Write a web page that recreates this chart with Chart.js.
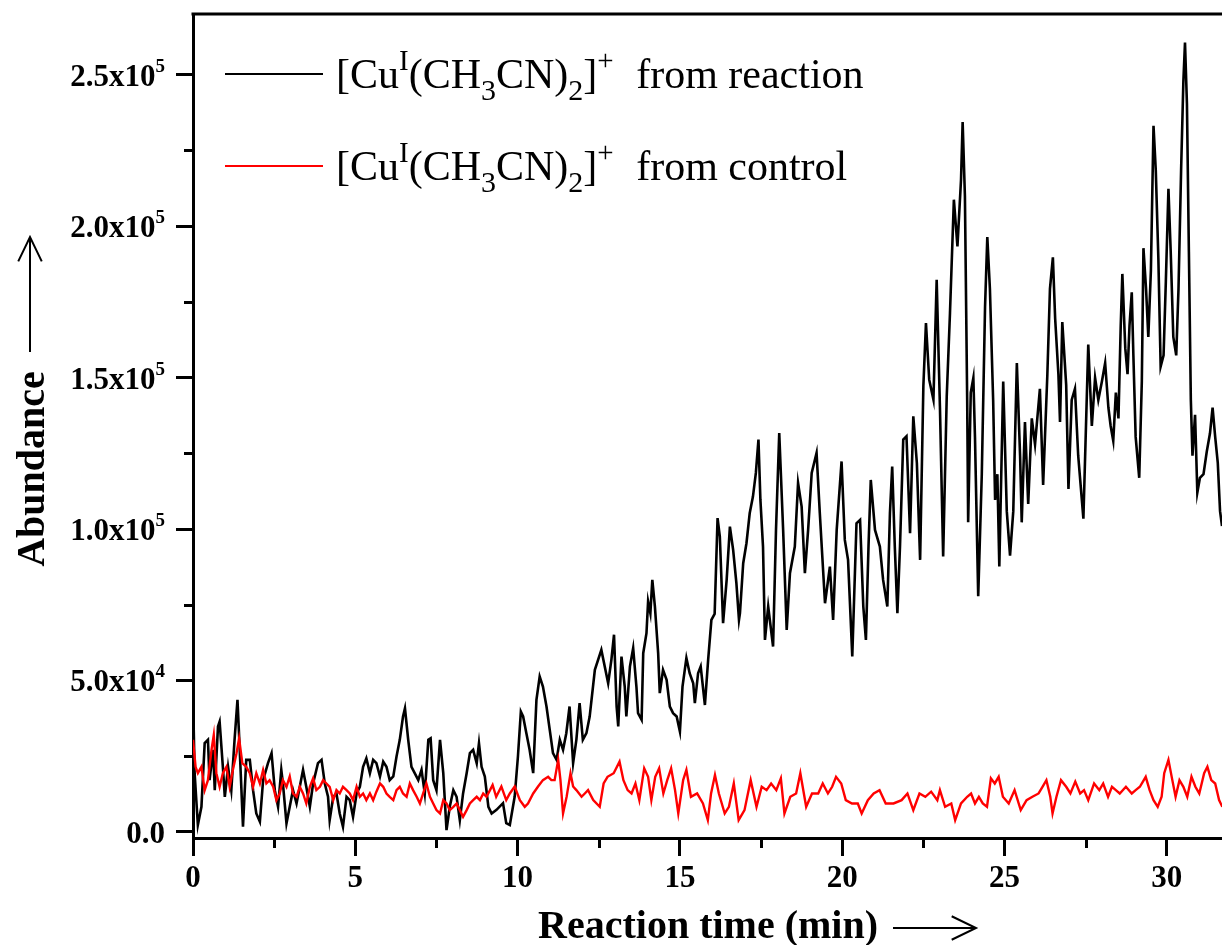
<!DOCTYPE html>
<html><head><meta charset="utf-8">
<script src="https://cdn.jsdelivr.net/npm/chart.js@4/dist/chart.umd.min.js"></script>
<style>html,body{margin:0;padding:0;background:#fff;}#wrap{width:1222px;height:945px;}</style>
</head><body><div id="wrap"><canvas id="c" width="1222" height="945"></canvas></div>
<script>
// ---- data ----
const seriesNames = ['[Cu^{I}(CH_{3}CN)_{2}]^{+} from reaction', '[Cu^{I}(CH_{3}CN)_{2}]^{+} from control'];
const seriesColors = ['#000000', '#ff0000'];
const xTitle = 'Reaction time (min)';
const yTitle = 'Abundance';
const xTickValues = [0, 5, 10, 15, 20, 25, 30];
const xTickLabels = ['0', '5', '10', '15', '20', '25', '30'];
const yTickValues = [0, 50000, 100000, 150000, 200000, 250000];
const yTickLabels = ['0.0', '5.0x10^{4}', '1.0x10^{5}', '1.5x10^{5}', '2.0x10^{5}', '2.5x10^{5}'];

const reactionTime = [
0,0.05,0.15,0.26,0.36,0.46,0.51,0.62,0.67,0.77,
0.82,0.92,0.98,1.08,1.18,1.28,1.37,1.44,1.54,1.64,
1.75,1.85,1.95,2.06,2.16,2.31,2.42,2.52,2.62,2.72,
2.77,2.88,2.98,3.08,3.19,3.29,3.39,3.49,3.6,3.7,
3.85,3.96,4.06,4.16,4.21,4.32,4.42,4.52,4.62,4.73,
4.83,4.93,5.04,5.14,5.24,5.34,5.45,5.55,5.65,5.76,
5.86,5.96,6.06,6.17,6.27,6.37,6.47,6.53,6.63,6.73,
6.83,6.94,7.04,7.14,7.25,7.32,7.4,7.5,7.61,7.71,
7.81,7.91,8.02,8.12,8.22,8.32,8.43,8.53,8.63,8.74,
8.81,8.89,8.99,9.1,9.2,9.35,9.55,9.65,9.76,9.91,
10.01,10.1,10.17,10.27,10.37,10.48,10.58,10.68,10.78,10.89,
10.99,11.09,11.2,11.3,11.4,11.5,11.6,11.71,11.81,11.91,
12.01,12.12,12.22,12.38,12.58,12.79,12.89,12.97,13.05,13.1,
13.2,13.3,13.35,13.46,13.56,13.66,13.71,13.82,13.87,13.97,
14.02,14.09,14.15,14.23,14.33,14.38,14.48,14.59,14.69,14.79,
14.9,15,15.08,15.2,15.3,15.41,15.46,15.56,15.64,15.77,
15.87,15.97,16.07,16.16,16.23,16.33,16.44,16.54,16.64,16.74,
16.82,16.85,16.95,17.05,17.15,17.25,17.34,17.42,17.48,17.56,
17.62,17.72,17.87,17.96,18.06,18.18,18.29,18.39,18.54,18.64,
18.75,18.85,18.95,19.06,19.21,19.31,19.47,19.62,19.72,19.83,
19.98,20.08,20.18,20.31,20.44,20.55,20.65,20.73,20.81,20.88,
21.01,21.16,21.26,21.39,21.47,21.54,21.62,21.7,21.78,21.88,
21.98,22.09,22.19,22.3,22.4,22.5,22.58,22.68,22.81,22.91,
23.01,23.11,23.22,23.32,23.44,23.55,23.66,23.71,23.78,23.85,
23.88,23.96,24.04,24.09,24.19,24.3,24.4,24.47,24.55,24.65,
24.71,24.78,24.84,24.96,25.07,25.17,25.27,25.38,25.48,25.53,
25.63,25.73,25.84,25.94,26.09,26.19,26.32,26.4,26.49,26.56,
26.66,26.71,26.78,26.9,26.97,27.07,27.17,27.27,27.43,27.58,
27.69,27.79,27.89,28,28.1,28.2,28.27,28.35,28.43,28.51,
28.58,28.63,28.72,28.79,28.85,28.92,28.97,29.04,29.15,29.23,
29.28,29.36,29.43,29.51,29.59,29.66,29.74,29.81,29.9,29.97,
30.05,30.12,30.2,30.29,30.36,30.44,30.51,30.56,30.62,30.68,
30.74,30.79,30.87,30.94,31.02,31.13,31.23,31.33,31.41,31.49,
31.57,31.64,31.7];
const reactionAbundance = [
45800,19400,2300,8300,29300,30400,17100,27100,13800,34800,
36400,21500,11600,21500,13800,30400,43600,27100,1700,23800,
23800,13800,6100,3400,17100,22700,26000,13800,8300,20500,
16000,2800,8300,13800,9400,14900,20500,14900,8300,16000,
22700,23800,16000,11600,3900,11600,12700,6100,1700,11600,
10500,5000,12700,14900,21500,24300,19400,23800,22700,18300,
23200,21500,17100,18300,24900,30400,38100,40800,30400,21500,
19400,17100,20500,12700,30400,30900,17100,13800,30400,19400,
600,8300,13800,11600,3900,12700,19400,26000,27100,22700,
29300,21500,18300,8300,6100,7300,9500,2900,2300,11700,
24900,39700,38100,32600,27100,19400,43600,51300,48000,41400,
33700,26000,23800,30400,27100,32600,41400,22700,30400,42500,
30400,32600,38100,53500,60100,49100,56900,65100,41400,34800,
57900,48000,38100,54600,60700,48000,39200,37000,59000,65600,
76100,72200,83200,74400,59000,45800,53500,50200,41400,39200,
38100,33100,48000,57400,52400,49100,42500,52400,54600,41900,
56800,70000,72000,103600,97500,68900,83200,100800,93100,82100,
70000,72200,88700,95300,105200,110700,118500,129500,109600,94200,
63400,74400,61200,99700,131700,99700,66700,85400,94200,115200,
107400,85400,99700,118500,125100,105200,75500,87600,70000,99700,
122300,96400,89800,57900,101900,103000,74400,63400,94200,116200,
99700,94200,83200,74400,105200,120600,94200,72200,94200,129500,
130600,98600,137200,121800,89800,147100,168000,149300,142700,182300,
140500,90900,143800,171300,208700,193300,215300,234300,209900,142600,
102200,145000,149900,130400,77800,118100,173200,196400,179300,142600,
109600,118100,87600,148700,105900,91200,105900,154800,124200,102200,
135300,108300,136500,127900,146300,114500,151100,179300,189700,169500,
151100,135300,168300,147500,113200,142600,146300,124200,103400,160900,
134000,149900,142600,148700,154800,140100,134000,129100,145000,136500,
167100,184200,159700,151100,167100,178100,157300,130400,116900,148700,
192700,179300,163400,185400,233100,218400,189100,153600,157300,181700,
212300,191500,163400,157300,179300,218400,247800,260600,240400,191500,
142600,124200,137700,112000,116900,118100,125500,131600,140100,130400,
121800,105900,101000];

const controlTime = [
0,0.08,0.15,0.26,0.36,0.46,0.57,0.64,0.72,0.82,
0.92,1.03,1.13,1.23,1.34,1.42,1.52,1.64,1.75,1.85,
1.95,2.06,2.16,2.26,2.36,2.47,2.57,2.67,2.77,2.88,
2.98,3.08,3.19,3.29,3.39,3.49,3.6,3.7,3.8,3.91,
4.01,4.11,4.21,4.32,4.42,4.52,4.62,4.73,4.83,4.93,
5.04,5.14,5.24,5.34,5.45,5.55,5.65,5.76,5.86,5.96,
6.06,6.17,6.27,6.37,6.47,6.58,6.68,6.78,6.89,6.99,
7.09,7.19,7.3,7.4,7.5,7.61,7.71,7.81,7.91,8.02,
8.12,8.22,8.32,8.43,8.53,8.63,8.74,8.84,8.94,9.04,
9.15,9.23,9.34,9.5,9.65,9.76,9.91,10.07,10.22,10.32,
10.48,10.63,10.78,10.94,11.04,11.14,11.25,11.32,11.4,11.51,
11.63,11.71,11.81,11.97,12.07,12.17,12.33,12.53,12.65,12.77,
12.96,13.14,13.26,13.39,13.51,13.63,13.75,13.9,14.02,14.12,
14.24,14.36,14.49,14.61,14.73,14.85,14.95,15.1,15.2,15.34,
15.53,15.71,15.86,15.96,16.08,16.2,16.38,16.51,16.66,16.81,
16.99,17.18,17.36,17.52,17.67,17.81,17.97,18.11,18.22,18.4,
18.58,18.71,18.89,19.07,19.26,19.4,19.56,19.69,19.81,19.97,
20.11,20.3,20.48,20.6,20.79,20.97,21.15,21.34,21.58,21.83,
22.01,22.19,22.38,22.56,22.74,22.93,23.01,23.17,23.36,23.48,
23.66,23.85,23.97,24.09,24.21,24.33,24.46,24.58,24.7,24.82,
24.95,25.13,25.31,25.5,25.68,25.86,26.05,26.17,26.29,26.41,
26.48,26.6,26.74,26.9,27.03,27.18,27.33,27.45,27.58,27.76,
27.92,28.04,28.19,28.31,28.43,28.55,28.74,28.92,29.04,29.17,
29.35,29.47,29.59,29.72,29.84,29.92,30.05,30.17,30.27,30.39,
30.51,30.63,30.76,30.88,31,31.15,31.25,31.37,31.49,31.61,
31.71];
const controlAbundance = [
30400,21500,19400,21500,13800,17100,27100,32000,19400,14900,
19400,21500,14900,20500,26000,30900,22700,21500,19400,14900,
19400,16000,20500,16000,17100,14900,10500,12700,17100,14900,
18300,12700,11600,14900,12700,9400,14900,17700,13800,14900,
17100,16000,14900,10500,13800,12700,14900,13800,12700,10500,
14900,11600,12700,10500,12700,10500,13300,16000,14900,12700,
11600,10500,13800,14900,12700,11600,16000,13800,11600,9400,
12700,16000,11600,9400,7200,6100,10500,9400,7200,8300,
9400,7200,5000,7200,9400,10500,11600,10500,12700,11600,
13800,15500,11600,15000,10500,12700,15000,10500,8300,9400,
12700,15000,17100,18200,17100,17100,23800,17100,6100,11600,
19400,15000,13800,11600,12700,13800,10500,8300,16000,18200,
19400,23200,17100,13800,12700,16000,10500,21000,18200,10500,
18200,21000,12700,17100,21000,13800,6100,17100,20500,11600,
12700,9400,3900,12700,18800,12700,6100,8300,16000,3900,
7200,17100,8300,14900,13800,16000,13800,17700,6100,11600,
12700,19400,8300,12700,12700,16000,12700,14900,18200,16000,
10500,9400,9400,6100,10500,12700,13800,9400,9400,10500,
12700,7200,12700,11600,13300,10500,13800,8300,9400,3900,
9400,11600,12700,9400,11600,9400,8300,17700,16000,18200,
11600,9400,13800,7200,10500,11600,12700,14900,17100,11600,
6100,11600,17100,14900,12700,16600,12700,13800,10500,16000,
13800,16000,11600,14900,13800,12700,14900,12700,13800,14900,
18200,13800,10500,8300,11600,19400,23800,17100,11600,17100,
14900,11600,18200,14900,12700,19400,21500,17100,16000,10500,
8300];

// ---- helpers ----
const SERIF = '"Liberation Serif", "Times New Roman", Times, serif';
function toPoints(xs, ys) { return xs.map((x, i) => ({ x: x, y: ys[i] })); }

function parseRich(s) {
  const parts = [];
  const re = /(\^\{[^}]*\}|_\{[^}]*\})/g;
  let last = 0, m;
  while ((m = re.exec(s)) !== null) {
    if (m.index > last) parts.push({ t: s.slice(last, m.index), k: 'n' });
    parts.push({ t: m[0].slice(2, -1), k: m[0][0] === '^' ? 'sup' : 'sub' });
    last = re.lastIndex;
  }
  if (last < s.length) parts.push({ t: s.slice(last), k: 'n' });
  return parts;
}
function richLayout(ctx, s, st) {
  const parts = parseRich(s);
  const items = [];
  let w = 0;
  parts.forEach((p, i) => {
    let sz = st.size, dy = 0, gapAfter = 0;
    const next = parts[i + 1];
    if (p.k === 'sup') {
      sz = Math.round(st.size * st.supScale); dy = -Math.round(st.size * st.supRise);
      if (next && next.t.charAt(0) === ' ') gapAfter = st.supGap || 0;
    }
    if (p.k === 'sub') { sz = Math.round(st.size * st.subScale); dy = Math.round(st.size * st.subDrop); }
    const font = (st.weight ? st.weight + ' ' : '') + sz + 'px ' + SERIF;
    ctx.font = font;
    const tw = ctx.measureText(p.t).width;
    items.push({ t: p.t, font, dx: w, dy });
    w += tw + gapAfter;
  });
  return { items, width: w };
}
function drawRich(ctx, x, y, s, st, align) {
  const L = richLayout(ctx, s, st);
  const x0 = align === 'right' ? x - L.width : x;
  ctx.textAlign = 'left';
  ctx.textBaseline = 'alphabetic';
  for (const it of L.items) { ctx.font = it.font; ctx.fillText(it.t, x0 + it.dx, y + it.dy); }
}
function arrow(ctx, x1, y1, x2, y2) {
  const a = Math.atan2(y2 - y1, x2 - x1), L = 27, W = 0.45;
  ctx.beginPath();
  ctx.moveTo(x1, y1); ctx.lineTo(x2, y2);
  ctx.moveTo(x2 - L * Math.cos(a - W), y2 - L * Math.sin(a - W));
  ctx.lineTo(x2, y2);
  ctx.lineTo(x2 - L * Math.cos(a + W), y2 - L * Math.sin(a + W));
  ctx.stroke();
}

const legendStyle = { size: 42, weight: '', supScale: 0.70, supRise: 0.42, subScale: 0.72, subDrop: 0.28, supGap: 12 };
const yTickStyle = { size: 31, weight: 'bold', supScale: 0.62, supRise: 0.46, subScale: 0.7, subDrop: 0.3, supGap: 0 };

const decorPlugin = {
  id: 'decor',
  afterDraw(chart) {
    const ctx = chart.ctx, ca = chart.chartArea;
    const xs = chart.scales.x, ys = chart.scales.y;
    ctx.save();
    ctx.strokeStyle = '#000'; ctx.fillStyle = '#000';
    // top frame line
    ctx.lineWidth = 3;
    ctx.beginPath(); ctx.moveTo(ca.left - 1.5, ca.top); ctx.lineTo(ca.right, ca.top); ctx.stroke();
    // minor ticks
    for (let v = 25000; v < ys.max; v += 50000) {
      const py = Math.round(ys.getPixelForValue(v)) + 0.5;
      ctx.beginPath(); ctx.moveTo(ca.left, py); ctx.lineTo(ca.left - 9, py); ctx.stroke();
    }
    for (let v = 2.5; v < xs.max; v += 5) {
      const px = Math.round(xs.getPixelForValue(v)) + 0.5;
      ctx.beginPath(); ctx.moveTo(px, ca.bottom); ctx.lineTo(px, ca.bottom + 10); ctx.stroke();
    }
    // y tick labels with superscript exponents
    ctx.fillStyle = '#000';
    yTickValues.forEach((v, i) => {
      const py = ys.getPixelForValue(v);
      drawRich(ctx, ca.left - 28, py + 11, yTickLabels[i], yTickStyle, 'right');
    });
    // legend
    const rows = [88, 180];
    chart.data.datasets.forEach((ds, i) => {
      const y = rows[i];
      ctx.strokeStyle = ds.borderColor; ctx.lineWidth = 2.2;
      ctx.beginPath(); ctx.moveTo(ca.left + 32, y - 14); ctx.lineTo(ca.left + 130, y - 14); ctx.stroke();
      ctx.fillStyle = '#000';
      drawRich(ctx, ca.left + 143, y, seriesNames[i], legendStyle, 'left');
    });
    // axis titles
    ctx.fillStyle = '#000'; ctx.strokeStyle = '#000'; ctx.lineWidth = 2;
    ctx.font = 'bold 40px ' + SERIF;
    ctx.save();
    ctx.translate(44, 469); ctx.rotate(-Math.PI / 2);
    ctx.textAlign = 'center'; ctx.textBaseline = 'alphabetic';
    ctx.fillText(yTitle, 0, 0);
    ctx.restore();
    arrow(ctx, 30, 352, 30, 237);
    ctx.textAlign = 'right'; ctx.textBaseline = 'alphabetic';
    ctx.fillText(xTitle, 878, 938);
    arrow(ctx, 893, 928, 976, 928);
    ctx.restore();
  }
};

const tickFont = { family: SERIF, size: 31, weight: 'bold' };

new Chart(document.getElementById('c'), {
  type: 'line',
  data: {
    datasets: [
      { label: 'reaction', data: toPoints(reactionTime, reactionAbundance), borderColor: seriesColors[0], borderWidth: 2.6, pointRadius: 0, tension: 0, order: 1 },
      { label: 'control', data: toPoints(controlTime, controlAbundance), borderColor: seriesColors[1], borderWidth: 2.4, pointRadius: 0, tension: 0, order: 0 }
    ]
  },
  options: {
    responsive: false, animation: false, devicePixelRatio: 1,
    layout: { padding: { left: 0, top: 14, right: 0, bottom: 0 } },
    plugins: { legend: { display: false }, tooltip: { enabled: false } },
    scales: {
      x: {
        type: 'linear', min: 0, max: 31.7,
        afterBuildTicks: s => { s.ticks = xTickValues.map(v => ({ value: v })); },
        afterFit: s => { s.height = 107; s.paddingLeft = 0; s.paddingRight = 0; },
        ticks: { font: tickFont, color: '#000', padding: 4, maxRotation: 0, autoSkip: false,
          callback: v => xTickLabels[xTickValues.indexOf(v)] },
        grid: { drawOnChartArea: false, drawTicks: true, tickLength: 18, tickWidth: 3, tickColor: '#000' },
        border: { display: true, width: 3, color: '#000' }
      },
      y: {
        type: 'linear', min: -2000, max: 270000,
        afterBuildTicks: s => { s.ticks = yTickValues.map(v => ({ value: v })); },
        afterFit: s => { s.width = 193; s.paddingTop = 0; s.paddingBottom = 0; },
        ticks: { display: false },
        grid: { drawOnChartArea: false, drawTicks: true, tickLength: 17, tickWidth: 3, tickColor: '#000' },
        border: { display: true, width: 3, color: '#000' }
      }
    }
  },
  plugins: [decorPlugin]
});
</script>
</body></html>
